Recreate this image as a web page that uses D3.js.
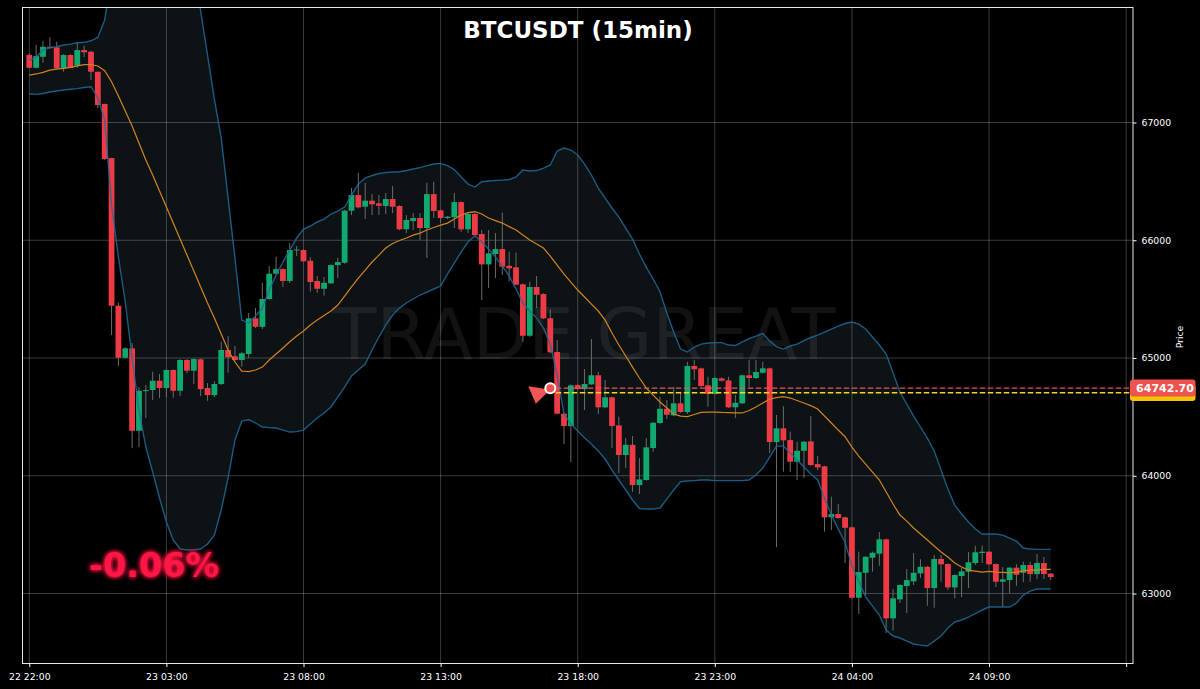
<!DOCTYPE html>
<html><head><meta charset="utf-8">
<script src="https://cdnjs.cloudflare.com/ajax/libs/d3/7.8.5/d3.min.js"></script>
<style>html,body{margin:0;padding:0;background:#000}svg{display:block}</style>
</head><body><div id="chart"></div>
<script>
const titleText = "BTCUSDT (15min)";
const watermark = "TRADE GREAT";
const changeLabel = "-0.06%";
const priceLabel = "64742.70";
const entryIndex = 76.8;
const entryPrice = 64745;
const lastPrice = 64705;
const priceTicks = [63000, 64000, 65000, 66000, 67000];
const timeTicks = [0, 20, 40, 60, 80, 100, 120, 140, 160];
const timeLabels = ["22 22:00","23 03:00","23 08:00","23 13:00","23 18:00","23 23:00","24 04:00","24 09:00",""];

const opens = [67573,67465,67558,67643,67638,67460,67573,67482,67615,67601,67431,67157,66698,65444,65002,65082,64382,64719,64728,64807,64745,64898,64722,64983,64892,64989,64745,64685,64779,65068,65014,64983,65034,65337,65265,65501,65716,65755,65654,65917,65917,65826,65654,65588,65634,65789,65809,66251,66384,66285,66336,66313,66291,66350,66291,66093,66163,66189,66104,66392,66254,66189,66195,66324,66093,66223,66053,65795,65883,65925,65783,65770,65626,65189,65603,65543,65337,65051,64527,64422,64770,64736,64776,64853,64581,64666,64428,64176,64263,63921,63964,64235,64448,64569,64513,64615,64541,64932,64912,64768,64694,64827,64810,64581,64615,64853,64830,64875,64912,64286,64403,64303,64119,64212,64292,64099,64080,63647,63675,63647,63562,62964,63176,63304,63338,63460,62789,62950,63063,63103,63171,63227,63046,63293,63250,63052,63148,63185,63259,63344,63355,63250,63100,63114,63219,63176,63242,63165,63259,63168];
const closes = [67465,67564,67643,67632,67460,67573,67465,67615,67596,67431,67148,66690,65444,65002,65082,64382,64722,64728,64807,64745,64898,64722,64983,64892,64991,64736,64685,64779,65068,65006,64983,65040,65337,65265,65501,65716,65755,65654,65917,65921,65821,65645,65588,65639,65789,65815,66251,66384,66279,66336,66305,66293,66350,66285,66093,66172,66189,66104,66392,66248,66189,66200,66324,66093,66223,66044,65795,65889,65925,65775,65761,65622,65189,65603,65537,65337,65048,64527,64422,64768,64736,64779,64853,64581,64666,64422,64176,64263,63921,63969,64241,64450,64569,64518,64615,64541,64932,64904,64762,64694,64830,64807,64581,64620,64853,64830,64881,64912,64286,64403,64301,64119,64212,64289,64091,64071,63647,63675,63641,63558,62964,63182,63312,63346,63460,62789,62959,63072,63114,63176,63227,63046,63293,63248,63052,63157,63188,63265,63350,63355,63248,63100,63120,63219,63159,63242,63165,63259,63165,63140];
const highs = [67590,67658,67694,67723,67686,67580,67580,67686,67652,67610,67431,67160,66700,65469,65090,65127,64753,64770,64883,64864,64905,64905,64990,64990,64998,64995,64787,64804,65138,65186,65102,65050,65382,65424,65639,65781,65860,65760,65976,65951,65925,65857,65696,65688,65795,65849,66258,66443,66573,66488,66392,66384,66401,66460,66297,66214,66231,66231,66488,66497,66260,66205,66401,66330,66230,66230,66087,66087,66061,66234,65902,65894,65632,65648,65696,65550,65413,65153,64533,64775,64778,64906,65161,64881,64813,64672,64501,64320,64337,64150,64320,64456,64671,64643,64756,64713,64968,64983,64918,64841,64838,64835,64841,64685,64860,64983,64983,64968,64918,64516,64592,64374,64289,64295,64507,64167,64085,63822,63760,63652,63568,63355,63318,63355,63522,63466,63038,63078,63208,63344,63290,63233,63327,63327,63256,63163,63216,63352,63406,63406,63360,63256,63225,63225,63250,63270,63270,63335,63310,63174];
const lows = [67460,67460,67508,67625,67455,67431,67460,67462,67556,67361,67123,66681,65195,64932,64995,64235,64246,64490,64643,64660,64668,64662,64677,64872,64779,64677,64637,64668,64770,64875,64975,64926,65000,65255,65246,65495,65710,65603,65637,65866,65815,65563,65554,65529,65630,65679,65800,66214,66270,66180,66214,66214,66223,66231,66085,66061,66087,66002,65849,66189,66146,66180,66104,66072,66061,66035,65492,65594,65679,65705,65654,65620,65138,65180,65424,65330,65040,64520,64269,64116,64730,64558,64770,64524,64575,64235,64023,64065,63864,63845,63958,64204,64442,64482,64507,64535,64524,64813,64755,64586,64688,64800,64575,64490,64608,64756,64822,64868,64193,63395,64034,64031,63964,63981,64085,64048,63525,63539,63635,63259,62958,62826,62987,63185,63236,62664,62684,62919,62834,63072,63131,62896,62879,63100,63029,62959,62970,63046,63242,63259,63242,63055,62888,63004,63066,63097,63100,63123,63123,63114];

const bandMid = [67403,67412,67426,67445,67454,67460,67468,67480,67491,67491,67480,67440,67346,67225,67097,66970,66826,66681,66554,66418,66282,66146,66010,65874,65738,65603,65467,65339,65203,65068,64966,64889,64885,64898,64923,64983,65034,65085,65138,65186,65229,65280,65322,65361,65399,65450,65526,65603,65679,65747,65815,65874,65934,65972,65998,66019,66044,66061,66087,66108,66129,66146,66180,66214,66235,66242,66223,66189,66167,66146,66116,66087,66044,66002,65968,65934,65866,65789,65713,65645,65577,65518,65458,65399,65322,65212,65110,65017,64923,64830,64745,64685,64626,64575,64524,64507,64503,64520,64538,64541,64541,64538,64537,64533,64533,64554,64584,64618,64651,64664,64671,64660,64639,64618,64596,64567,64507,64448,64388,64331,64244,64167,64099,64031,63964,63862,63760,63666,63615,63556,63505,63454,63403,63352,63310,63259,63225,63199,63191,63182,63187,63182,63180,63176,63182,63193,63199,63199,63204,63205];
const bandUpper = [67530,67556,67615,67637,67643,67658,67666,67677,67681,67694,67722,67870,68252,68634,68974,69314,69654,69739,69781,69781,69569,69314,69017,68677,68295,67947,67573,67199,66868,66358,65849,65322,65297,65356,65424,65577,65704,65815,65917,66019,66095,66121,66155,66180,66223,66248,66282,66384,66477,66528,66550,66567,66575,66579,66582,66592,66605,66617,66634,66647,66653,66634,66600,66537,66477,66452,66497,66503,66507,66511,66516,66537,66596,66588,66592,66613,66639,66758,66783,66766,66724,66647,66554,66443,66358,66274,66197,66104,66010,65883,65772,65671,65563,65382,65220,65076,65051,65093,65118,65127,65131,65131,65110,65106,65136,65165,65186,65209,65144,65097,65076,65102,65118,65147,65174,65195,65220,65246,65271,65293,65305,65288,65246,65178,65110,65034,64872,64713,64609,64507,64414,64320,64210,64048,63887,63751,63675,63607,63547,63505,63505,63505,63496,63471,63445,63386,63378,63375,63375,63375];
const bandLower = [67244,67239,67246,67259,67267,67276,67282,67288,67297,67304,67208,67021,66299,65857,65475,65000,64558,64244,64032,63811,63607,63454,63378,63370,63370,63378,63420,63496,63709,63981,64303,64465,64477,64448,64414,64409,64405,64388,64371,64375,64388,64439,64490,64533,64584,64668,64753,64847,64898,64949,65068,65178,65280,65365,65424,65467,65501,65535,65560,65586,65611,65713,65806,65900,65985,66036,65985,65925,65857,65781,65696,65586,65467,65399,65339,65254,65118,64855,64524,64439,64380,64320,64269,64210,64142,64048,63964,63879,63794,63722,63717,63717,63726,63802,63879,63949,63955,63959,63964,63964,63959,63959,63959,63959,63959,63964,64006,64065,64159,64252,64252,64193,64133,64074,64014,63964,63811,63666,63547,63436,63233,63106,62970,62893,62817,62690,62639,62622,62596,62571,62562,62554,62596,62639,62707,62758,62775,62800,62830,62860,62885,62885,62885,62885,62919,62987,63021,63038,63038,63038];

const W = 1200, H = 689;
const plot = {left: 22.5, right: 1133, top: 7.5, bottom: 663.5};
const x = d3.scaleLinear().domain([-0.99, 161]).range([plot.left, plot.right]);
const y = d3.scaleLinear().domain([63000, 67000]).range([593.5, 122.5]);
const FONT = "'DejaVu Sans', sans-serif";
const UP = "#10aa70", DOWN = "#ee3a45";

const svg = d3.select("#chart").append("svg").attr("width", W).attr("height", H).style("background", "#000");
const defs = svg.append("defs");
defs.append("clipPath").attr("id", "plotClip").append("rect")
  .attr("x", plot.left).attr("y", plot.top).attr("width", plot.right - plot.left).attr("height", plot.bottom - plot.top);
const glow = defs.append("filter").attr("id", "glow").attr("x", "-20%").attr("y", "-40%").attr("width", "140%").attr("height", "180%");
glow.append("feGaussianBlur").attr("stdDeviation", 2.4).attr("result", "b");
const gm = glow.append("feMerge");
gm.append("feMergeNode").attr("in", "b");
gm.append("feMergeNode").attr("in", "b");
gm.append("feMergeNode").attr("in", "SourceGraphic");

const root = svg.append("g").attr("clip-path", "url(#plotClip)");

// grid
root.append("g").selectAll("line").data(timeTicks).join("line")
  .attr("x1", d => x(d)).attr("x2", d => x(d)).attr("y1", plot.top).attr("y2", plot.bottom)
  .attr("stroke", "#fff").attr("stroke-opacity", 0.23).attr("stroke-width", 1);
root.append("g").selectAll("line").data(priceTicks).join("line")
  .attr("x1", plot.left).attr("x2", plot.right).attr("y1", d => y(d)).attr("y2", d => y(d))
  .attr("stroke", "#fff").attr("stroke-opacity", 0.23).attr("stroke-width", 1);

// watermark
root.append("text").attr("x", 584).attr("y", 359).attr("text-anchor", "middle")
  .attr("font-family", FONT).attr("font-size", 72).attr("fill", "#fff").attr("fill-opacity", 0.07).text(watermark);

// bands
const idx = d3.range(opens.length);
const area = d3.area().x(i => x(i)).y0(i => y(bandLower[i])).y1(i => y(bandUpper[i])).curve(d3.curveLinear);
root.append("path").attr("d", area(idx)).attr("fill", "#8fc0dc").attr("fill-opacity", 0.095);

// wicks
root.append("g").selectAll("line").data(idx).join("line")
  .attr("x1", i => x(i)).attr("x2", i => x(i)).attr("y1", i => y(highs[i])).attr("y2", i => y(lows[i]))
  .attr("stroke", "#6b6b6b").attr("stroke-width", 1);

// candle bodies
root.append("g").selectAll("rect").data(idx).join("rect")
  .attr("x", i => x(i) - 2.9).attr("width", 5.8)
  .attr("y", i => y(Math.max(opens[i], closes[i])))
  .attr("height", i => Math.max(0.9, Math.abs(y(opens[i]) - y(closes[i]))))
  .attr("fill", i => closes[i] >= opens[i] ? UP : DOWN);

// band lines
const lineOf = arr => d3.line().x(i => x(i)).y(i => y(arr[i]))(idx);
root.append("path").attr("d", lineOf(bandUpper)).attr("fill", "none").attr("stroke", "#1f6a98").attr("stroke-opacity", 0.85).attr("stroke-width", 1.4);
root.append("path").attr("d", lineOf(bandLower)).attr("fill", "none").attr("stroke", "#1f6a98").attr("stroke-opacity", 0.85).attr("stroke-width", 1.4);
root.append("path").attr("d", lineOf(bandMid)).attr("fill", "none").attr("stroke", "#cf801f").attr("stroke-width", 1.25);

// price lines
root.append("line").attr("x1", x(entryIndex)).attr("x2", plot.right).attr("y1", y(entryPrice)).attr("y2", y(entryPrice))
  .attr("stroke", "#e2555e").attr("stroke-width", 1.3).attr("stroke-dasharray", "5.5 2.5");
root.append("line").attr("x1", x(entryIndex)).attr("x2", plot.right).attr("y1", y(lastPrice)).attr("y2", y(lastPrice))
  .attr("stroke", "#f5d90a").attr("stroke-width", 1.5).attr("stroke-dasharray", "5.5 2.5");

// marker
const mx = x(entryIndex) - 5.5, my = y(entryPrice) + 0.3;
svg.append("path")
  .attr("d", d3.line()([[mx - 22, my - 2], [mx - 14.5, my + 15.5], [mx, my + 1.5]]))
  .attr("fill", "#f25555");
svg.append("circle").attr("cx", mx).attr("cy", my).attr("r", 5).attr("fill", "#ef5350").attr("stroke", "#fff").attr("stroke-width", 2);

// change label
svg.append("text").attr("x", 89).attr("y", 577).attr("font-family", FONT).attr("font-weight", "bold")
  .attr("font-size", 33.5).attr("fill", "#ff1744").attr("filter", "url(#glow)").text(changeLabel);

// title
svg.append("text").attr("x", 578).attr("y", 38).attr("text-anchor", "middle").attr("font-family", FONT)
  .attr("font-weight", "bold").attr("font-size", 23).attr("fill", "#fff").text(titleText);

// spines
svg.append("rect").attr("x", plot.left).attr("y", plot.top).attr("width", plot.right - plot.left).attr("height", plot.bottom - plot.top)
  .attr("fill", "none").attr("stroke", "#e6e6e6").attr("stroke-width", 1);

// axes
const xAxis = d3.axisBottom(x).tickValues(timeTicks).tickSize(3.5).tickPadding(6).tickFormat((d, i) => timeLabels[i]);
const gx = svg.append("g").attr("transform", `translate(0,${plot.bottom})`).call(xAxis);
gx.select(".domain").remove();
gx.selectAll("line").attr("stroke", "#fff");
gx.selectAll("text").attr("fill", "#fff").attr("font-family", FONT).attr("font-size", 9.3);

const yAxis = d3.axisRight(y).tickValues(priceTicks).tickSize(3.5).tickPadding(5).tickFormat(d3.format("d"));
const gy = svg.append("g").attr("transform", `translate(${plot.right},0)`).call(yAxis);
gy.select(".domain").remove();
gy.selectAll("line").attr("stroke", "#fff");
gy.selectAll("text").attr("fill", "#fff").attr("font-family", FONT).attr("font-size", 9.3);

svg.append("text").attr("transform", "translate(1183,337) rotate(-90)").attr("text-anchor", "middle")
  .attr("font-family", FONT).attr("font-size", 9.3).attr("fill", "#fff").text("Price");

// price tag
svg.append("rect").attr("x", 1130).attr("y", 384).attr("width", 65.5).attr("height", 17).attr("rx", 3).attr("fill", "#f5c400");
svg.append("rect").attr("x", 1130).attr("y", 379.5).attr("width", 65.5).attr("height", 17).attr("rx", 3).attr("fill", "#ef5350");
svg.append("text").attr("x", 1165).attr("y", 392).attr("text-anchor", "middle").attr("font-family", FONT)
  .attr("font-weight", "bold").attr("font-size", 11).attr("fill", "#fff").text(priceLabel);
</script></body></html>
